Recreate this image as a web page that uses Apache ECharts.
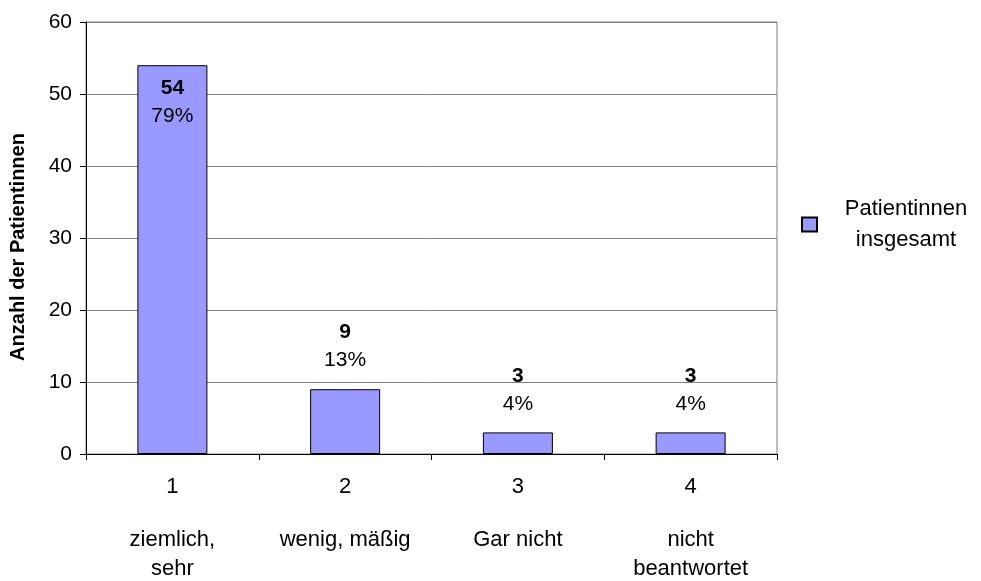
<!DOCTYPE html>
<html>
<head>
<meta charset="utf-8">
<script src="https://cdn.jsdelivr.net/npm/echarts@6/dist/echarts.min.js"></script>
<style>
  html, body { margin: 0; padding: 0; background: #fff; }
  #chart { width: 981px; height: 581px; }
</style>
</head>
<body>
<div id="chart"></div>
<script>
const categories = ['1', '2', '3', '4'];
const descriptions = ['ziemlich,\nsehr', 'wenig, mäßig', 'Gar nicht', 'nicht\nbeantwortet'];
const counts = [54, 9, 3, 3];
const percents = [79, 13, 4, 4];
const yTicks = { min: 0, max: 60, interval: 10 };

const FONT = '"Liberation Sans", Arial, sans-serif';
const BAR_COLOR = '#9999ff';

const chart = echarts.init(document.getElementById('chart'));

// first bar is tall enough to carry its label inside
const barData = counts.map((v, i) => ({
  value: v,
  label: i === 0 ? { position: 'insideTop', distance: 10 } : {}
}));

chart.setOption({
  animation: false,
  backgroundColor: '#fff',
  textStyle: { fontFamily: FONT },
  grid: {
    left: 86, right: 204, top: 22, bottom: 127,
    outerBoundsMode: 'none',
    containLabel: false,
    show: true, borderColor: '#808080', borderWidth: 1
  },
  legend: {
    left: 801,
    top: 198,
    padding: 0,
    orient: 'vertical',
    itemWidth: 15,
    itemHeight: 14,
    icon: 'rect',
    formatter: () => '{a|Patientinnen}\n{a|insgesamt}',
    textStyle: {
      color: '#000',
      fontFamily: FONT,
      rich: {
        a: { fontSize: 22, width: 168, align: 'center', lineHeight: 31, fontFamily: FONT, color: '#000' }
      }
    },
    data: ['Patientinnen insgesamt']
  },
  xAxis: [
    {
      type: 'category',
      data: categories,
      axisLine: { lineStyle: { color: '#000', width: 1 } },
      axisTick: { show: true, length: 6, lineStyle: { color: '#000' } },
      axisLabel: { color: '#000', fontSize: 22, margin: 22, fontFamily: FONT }
    },
    {
      type: 'category',
      position: 'bottom',
      data: descriptions,
      axisLine: { show: false },
      axisTick: { show: false },
      axisLabel: { color: '#000', fontSize: 22, margin: 71, lineHeight: 29, fontFamily: FONT, verticalAlign: 'top' }
    }
  ],
  yAxis: {
    type: 'value',
    min: yTicks.min,
    max: yTicks.max,
    interval: yTicks.interval,
    name: 'Anzahl der Patientinnen',
    nameLocation: 'middle',
    nameGap: 58,
    nameTextStyle: { color: '#000', fontSize: 20, fontWeight: 'bold', fontFamily: FONT, padding: [0, 18, 0, 0] },
    axisLine: { show: true, lineStyle: { color: '#000', width: 1 } },
    axisTick: { show: true, length: 6, lineStyle: { color: '#000' } },
    axisLabel: { color: '#000', fontSize: 21, margin: 14, fontFamily: FONT },
    splitLine: { lineStyle: { color: '#808080', width: 1 } }
  },
  series: [{
    name: 'Patientinnen insgesamt',
    type: 'bar',
    xAxisIndex: 0,
    barWidth: 70,
    data: barData,
    itemStyle: { color: BAR_COLOR, borderColor: '#000', borderWidth: 1 },
    label: {
      show: true,
      position: 'top',
      distance: 14,
      formatter: p => '{v|' + counts[p.dataIndex] + '}\n{p|' + percents[p.dataIndex] + '%}',
      rich: {
        v: { fontSize: 21, fontWeight: 'bold', color: '#000', lineHeight: 27, fontFamily: FONT },
        p: { fontSize: 21, color: '#000', lineHeight: 29, fontFamily: FONT }
      }
    }
  }]
});
</script>
</body>
</html>
